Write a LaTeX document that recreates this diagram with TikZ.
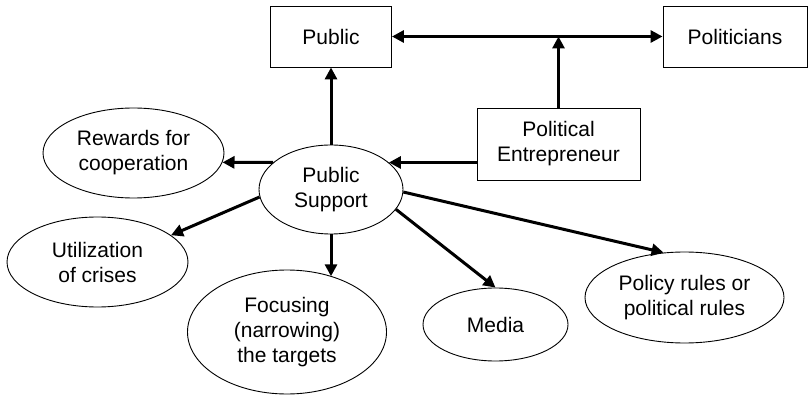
\documentclass[tikz,border=0pt]{standalone}
\usepackage{fontspec}
\setmainfont{Liberation Sans}
\usetikzlibrary{arrows.meta,shapes.geometric}
\tikzset{
  box/.style={draw=black, line width=0.9pt, inner sep=2pt, align=center},
  oval/.style={ellipse, draw=black, line width=0.9pt, inner sep=0pt, align=center},
  arrow/.style={-{Triangle[length=12pt,width=12pt]}, line width=3pt},
  both/.style={{Triangle[length=12pt,width=12pt]}-{Triangle[length=12pt,width=12pt]}, line width=3pt},
}

\begin{document}
\begin{tikzpicture}[x=1pt,y=-1pt,font=\fontsize{21}{25}\selectfont]
  \useasboundingbox (0,0) rectangle (808,395);

  % boxes
  \node[box, minimum width=121pt, minimum height=61pt] (pub) at (331,36.5) {Public};
  \node[box, minimum width=144pt, minimum height=61pt] (pol) at (735,36.5) {Politicians};
  \node[box, minimum width=163pt, minimum height=72pt] (pe) at (558.5,144) {Political\\Entrepreneur};

  % ovals
  \node[oval, minimum width=144pt, minimum height=89pt] (ps) at (331,189.5) {Public\\Support};
  \node[oval, minimum width=181pt, minimum height=90pt] (rew) at (133.5,153) {Rewards for\\cooperation};
  \node[oval, minimum width=181pt, minimum height=90pt] (util) at (97.5,262) {Utilization\\of crises};
  \node[oval, minimum width=199pt, minimum height=124pt] (foc) at (287,332) {Focusing\\(narrowing)\\the targets};
  \node[oval, minimum width=145pt, minimum height=73pt] (med) at (495.5,324.5) {Media};
  \node[oval, minimum width=199pt, minimum height=91pt] (rules) at (684.5,297.5) {Policy rules or\\political rules};

  % connectors
  \draw[both] (pub) -- (pol);
  \draw[arrow] (pe.north) -- (pe.north |- pub.east);
  \draw[arrow] (pe.west |- ps.25) -- (ps.25);
  \draw[arrow] (ps) -- (pub);
  \draw[arrow] (ps.155) -- (rew.-6);
  \draw[arrow] (ps.186) -- (util.20);
  \draw[arrow] (ps.south) -- (ps.south |- foc.51);
  \draw[arrow] (ps.-17) -- (med.north);
  \draw[arrow] (ps.-2) -- (rules.115);
\end{tikzpicture}
\end{document}
